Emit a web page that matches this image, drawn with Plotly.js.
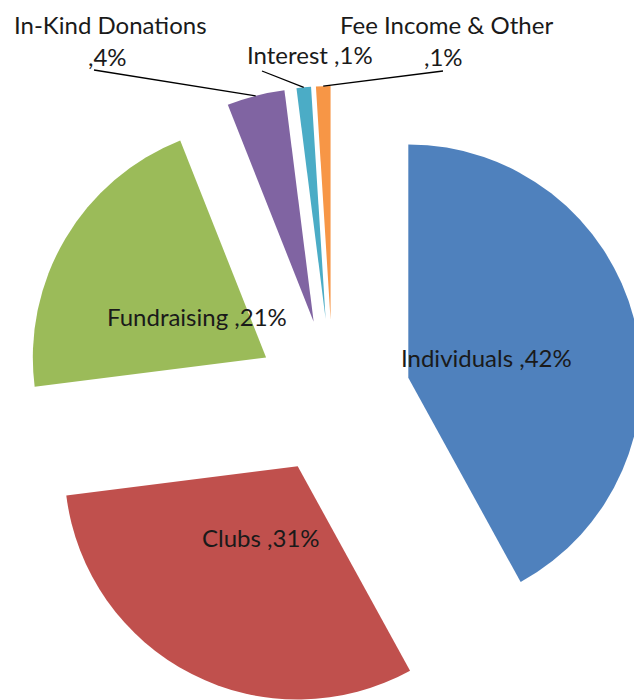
<!DOCTYPE html>
<html><head><meta charset="utf-8">
<script src="https://cdn.plot.ly/plotly-3.0.1.min.js"></script>
<style>html,body{margin:0;padding:0;overflow:hidden;background:#fff}#chart{width:660px;height:720px}</style>
</head><body><div id="chart"></div>
<script>
// ---- data ----
const categories = ['Individuals', 'Clubs', 'Fundraising', 'In-Kind Donations', 'Interest', 'Fee Income & Other'];
const values = [42, 31, 21, 4, 1, 1];
const sliceColors = ['#4F81BD', '#C0504D', '#9BBB59', '#8064A2', '#4BACC6', '#F79646'];

// ---- layout geometry (styles only) ----
const W = 660, H = 720;
const M = {l: 22, t: 86, r: 16, b: 12};
const PULL = 1 / 3;
const plotW = W - M.l - M.r, plotH = H - M.t - M.b;
const cx = M.l + plotW / 2, cy = M.t + plotH / 2;
const R = Math.min(plotW, plotH) / 2 / (1 + PULL);
const toPX = px => (px - M.l) / plotW;
const toPY = py => 1 - (py - M.t) / plotH;

const total = values.reduce((a, b) => a + b, 0);
const pct = values.map(v => Math.round(v / total * 100));
// mid angles (clockwise from 12 o'clock)
let acc = 0;
const mids = values.map(v => { const m = (acc + v / 2) / total * 2 * Math.PI; acc += v; return m; });
const dir = a => [Math.sin(a), -Math.cos(a)];

const font = {family: 'Lato, "Open Sans", sans-serif', size: 24, color: '#1a1a1a'};
const annotations = [];
const shapes = [];

// inside labels for the large slices
[0, 1, 2].forEach(i => {
  const d = dir(mids[i]);
  const k = (PULL + 0.345) * R;
  annotations.push({xref: 'paper', yref: 'paper', x: toPX(cx + k * d[0]), y: toPY(cy + k * d[1]),
    text: categories[i] + ' ,' + pct[i] + '%', showarrow: false, xanchor: 'center', yanchor: 'middle', font});
});

// outside labels for the small slices (text placement) + leader lines to the slice edge
const outside = [
  {i: 3, lines: [[110, 25, categories[3]], [107, 57, ',' + pct[3] + '%']], start: [94, 70]},
  {i: 4, lines: [[310, 55, categories[4] + ' ,' + pct[4] + '%']], start: [262, 71]},
  {i: 5, lines: [[446, 25, categories[5]], [443.5, 57, ',' + pct[5] + '%']], start: [443, 71]}
];
outside.forEach(o => {
  o.lines.forEach(l => annotations.push({xref: 'paper', yref: 'paper', x: toPX(l[0]), y: toPY(l[1]),
    text: l[2], showarrow: false, xanchor: 'center', yanchor: 'middle', font}));
  const d = dir(mids[o.i]);
  const k = (PULL + 1) * R;
  shapes.push({type: 'line', xref: 'paper', yref: 'paper',
    x0: toPX(o.start[0]), y0: toPY(o.start[1]), x1: toPX(cx + k * d[0]), y1: toPY(cy + k * d[1]),
    line: {color: '#000', width: 1.3}});
});

const trace = {
  type: 'pie', labels: categories, values: values, sort: false, direction: 'clockwise', rotation: 0,
  pull: values.map(() => PULL), marker: {colors: sliceColors, line: {width: 0}},
  textinfo: 'none', hoverinfo: 'skip', showlegend: false
};

Plotly.newPlot('chart', [trace], {
  width: W, height: H, margin: M, paper_bgcolor: '#fff', plot_bgcolor: '#fff',
  showlegend: false, annotations, shapes
}, {staticPlot: true});
</script></body></html>
